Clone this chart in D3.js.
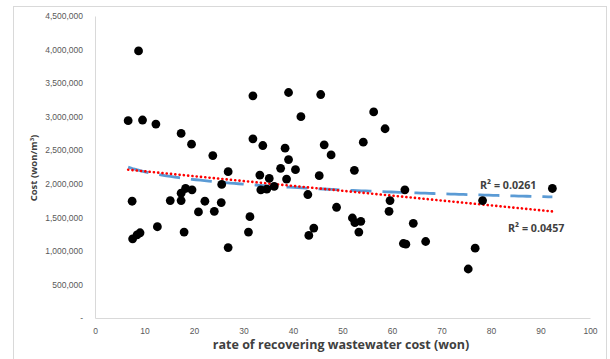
<!DOCTYPE html>
<html>
<head>
<meta charset="utf-8">
<script src="https://cdn.jsdelivr.net/npm/d3@7"></script>
<style>
  body { margin: 0; background: #ffffff; }
  svg { display: block; font-family: "Open Sans", "DejaVu Sans", sans-serif; }
</style>
</head>
<body>
<div class="grafico"></div>
<script>
// rate of recovering wastewater cost (won)
var rate = [8.8, 6.7, 9.6, 12.3, 17.4, 19.5, 23.8, 26.9, 31.9, 39.1,
  45.6, 41.6, 56.3, 58.6, 31.9, 33.9, 38.4, 46.3, 54.2, 39.1,
  47.7, 37.5, 40.5, 52.4, 7.5, 25.6, 18.3, 19.6, 17.4, 15.2,
  17.4, 22.2, 25.5, 20.9, 24.1, 12.6, 7.6, 8.5, 9.1, 18.0,
  26.9, 31.0, 33.3, 35.2, 38.7, 33.5, 34.7, 36.2, 45.3, 43.0,
  48.8, 59.6, 59.4, 31.3, 52.0, 52.5, 53.7, 53.3, 44.2, 43.2,
  62.6, 64.3, 62.3, 62.8, 66.8, 76.8, 75.4, 78.3, 92.4];

// Cost (won/m3)
var cost = [3980000, 2940000, 2950000, 2890000, 2750000, 2590000, 2420000, 2180000, 3310000, 3360000,
  3330000, 3000000, 3070000, 2820000, 2670000, 2570000, 2530000, 2580000, 2620000, 2360000,
  2430000, 2230000, 2210000, 2200000, 1740000, 1990000, 1930000, 1910000, 1860000, 1750000,
  1750000, 1740000, 1720000, 1580000, 1590000, 1360000, 1180000, 1240000, 1270000, 1280000,
  1050000, 1280000, 2130000, 2080000, 2070000, 1910000, 1920000, 1960000, 2120000, 1840000,
  1650000, 1750000, 1590000, 1510000, 1490000, 1420000, 1440000, 1280000, 1340000, 1230000,
  1910000, 1410000, 1110000, 1100000, 1140000, 1040000, 730000, 1750000, 1930000];

var xTicks = [0, 10, 20, 30, 40, 50, 60, 70, 80, 90, 100];
var yTicks = [0, 500000, 1000000, 1500000, 2000000, 2500000, 3000000, 3500000, 4000000, 4500000];

var r2Labels = ["R² = 0.0261", "R² = 0.0457"];

var puntos = rate.map(function (d, i) {
  return { x: d, y: cost[i] };
});

var contenedor = d3
  .select('.grafico')
  .append('svg')
  .attr('width', 610)
  .attr('height', 359);

// marco del grafico
contenedor
  .append('rect')
  .attr('x', 13.5)
  .attr('y', 6.5)
  .attr('width', 593)
  .attr('height', 400)
  .attr('fill', 'none')
  .attr('stroke', '#d9d9d9');

const xScale = d3.scaleLinear()
  .domain([0, 100])
  .range([95, 590]);

const yScale = d3.scaleLinear()
  .domain([0, 4500000])
  .range([318, 16]);

// ejes
const xAxis = d3.axisBottom(xScale)
  .tickValues(xTicks)
  .tickSize(0)
  .tickPadding(10)
  .tickFormat(d3.format('d'));

const yAxis = d3.axisLeft(yScale)
  .tickValues(yTicks)
  .tickSize(0)
  .tickPadding(12)
  .tickFormat(function (d) {
    return d === 0 ? '-' : d3.format(',')(d);
  });

contenedor
  .append('g')
  .attr('transform', 'translate(0, 318)')
  .call(xAxis)
  .call(g => g.select('.domain').attr('stroke', '#d9d9d9'))
  .selectAll('text')
  .attr('fill', '#595959')
  .style('font-size', '8.5px');

contenedor
  .append('g')
  .attr('transform', 'translate(95, 0)')
  .call(yAxis)
  .call(g => g.select('.domain').attr('stroke', '#d9d9d9'))
  .selectAll('text')
  .attr('fill', '#595959')
  .style('font-size', '8.5px');

// lineas de tendencia (minimos cuadrados)
var xMin = d3.min(rate), xMax = d3.max(rate);

function ajuste(xs, ys) {
  var mx = d3.mean(xs), my = d3.mean(ys);
  var num = d3.sum(xs, (v, i) => (v - mx) * (ys[i] - my));
  var den = d3.sum(xs, v => (v - mx) * (v - mx));
  var b = num / den;
  return { a: my - b * mx, b: b };
}

var lin = ajuste(rate, cost);
var lnRate = rate.map(v => Math.log(v));
var logFit = ajuste(lnRate, cost);

var xsTendencia = d3.range(0, 101).map(i => xMin + (xMax - xMin) * i / 100);

var linea = d3.line()
  .x(d => xScale(d[0]))
  .y(d => yScale(d[1]));

contenedor
  .append('path')
  .attr('d', linea(xsTendencia.map(v => [v, logFit.a + logFit.b * Math.log(v)])))
  .attr('fill', 'none')
  .attr('stroke', '#5b9bd5')
  .attr('stroke-width', 2.8)
  .attr('stroke-dasharray', '21,11');

contenedor
  .append('path')
  .attr('d', linea([[xMin, lin.a + lin.b * xMin], [xMax, lin.a + lin.b * xMax]]))
  .attr('fill', 'none')
  .attr('stroke', '#ff0000')
  .attr('stroke-width', 2.6)
  .attr('stroke-linecap', 'round')
  .attr('stroke-dasharray', '0.1,4.2');

// puntos
contenedor
  .selectAll('circle.dot')
  .data(puntos)
  .enter()
  .append('circle')
  .attr('class', 'dot')
  .attr('r', 4.4)
  .attr('cx', d => xScale(d.x))
  .attr('cy', d => yScale(d.y))
  .attr('fill', '#000000');

// etiquetas R2
contenedor
  .append('text')
  .attr('x', 480)
  .attr('y', 189)
  .attr('fill', '#404040')
  .style('font-size', '10.7px')
  .style('font-weight', 'bold')
  .text(r2Labels[0]);

contenedor
  .append('text')
  .attr('x', 508)
  .attr('y', 232)
  .attr('fill', '#404040')
  .style('font-size', '10.7px')
  .style('font-weight', 'bold')
  .text(r2Labels[1]);

// titulos de ejes
contenedor
  .append('text')
  .attr('x', 341)
  .attr('y', 349)
  .attr('text-anchor', 'middle')
  .attr('fill', '#404040')
  .style('font-size', '12.5px')
  .style('font-weight', 'bold')
  .text('rate of recovering wastewater cost (won)');

var tituloY = contenedor
  .append('text')
  .attr('transform', 'translate(37, 168) rotate(-90)')
  .attr('text-anchor', 'middle')
  .attr('fill', '#404040')
  .style('font-size', '9.5px')
  .style('font-weight', 'bold');

tituloY.append('tspan').text('Cost (won/m');
tituloY.append('tspan').attr('dy', -3).style('font-size', '6px').text('3');
tituloY.append('tspan').attr('dy', 3).text(')');
</script>
</body>
</html>
